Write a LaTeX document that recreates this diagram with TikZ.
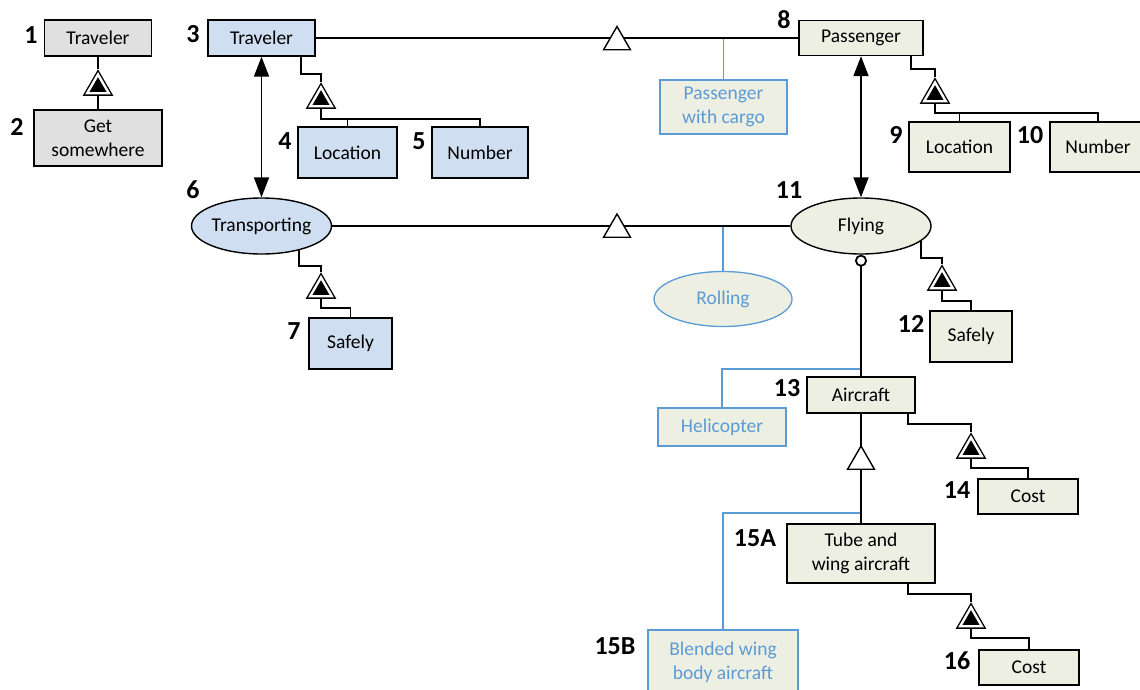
\documentclass[tikz,border=0pt]{standalone}
\usepackage{fontspec}
\setmainfont{Carlito}
\usepackage{xcolor}
\usepackage{tikz}
\usetikzlibrary{shapes.geometric,arrows.meta}

\definecolor{grayfill}{RGB}{224,224,224}
\definecolor{bluefill}{RGB}{207,222,240}
\definecolor{olivefill}{RGB}{238,239,227}
\definecolor{helpblue}{RGB}{91,155,213}

\begin{document}
\begin{tikzpicture}[x=1pt,y=-1pt,
        every node/.style={font=\fontsize{19.5}{24}\selectfont,align=center,inner sep=0pt},
        num/.style={font=\fontsize{26}{28}\selectfont\bfseries},
        graybox/.style={rectangle,draw,line width=1.4pt,fill=grayfill},
        bluebox/.style={rectangle,draw,line width=1.4pt,fill=bluefill},
        olivebox/.style={rectangle,draw,line width=1.4pt,fill=olivefill},
        helpbox/.style={rectangle,draw=helpblue,line width=1.3pt,fill=olivefill,text=helpblue},
        blueproc/.style={ellipse,draw,line width=1.4pt,fill=bluefill,inner xsep=-3pt},
        oliveproc/.style={ellipse,draw,line width=1.4pt,fill=olivefill,inner xsep=-3pt},
        helpproc/.style={ellipse,draw=helpblue,line width=1.3pt,fill=olivefill,text=helpblue,inner xsep=-3pt},
        aggr/.style={regular polygon,regular polygon sides=3,minimum size=25pt,draw,line width=1.4pt,
            fill=black,double=white,double distance=2.4pt,outer sep=2.6pt},
        gen/.style={regular polygon,regular polygon sides=3,minimum size=31pt,draw,line width=1.4pt,fill=white},
        link/.style={line width=1.8pt},
        helpline/.style={draw=helpblue,line width=1.3pt},
        both/.style={link,{Triangle[length=20pt,width=15pt]}-{Triangle[length=20pt,width=15pt]}}]
    \useasboundingbox (0,0) rectangle (1140,689);

    \node[graybox,minimum width=107pt,minimum height=36pt] (trav1) at (98,38) {Traveler};
    \node[graybox,minimum width=128pt,minimum height=56pt] (get2) at (98,138) {Get\\somewhere};
    \node[bluebox,minimum width=107pt,minimum height=36pt] (trav3) at (261.5,38) {Traveler};
    \node[bluebox,minimum width=99pt,minimum height=51pt] (loc4) at (347.5,152.5) {Location};
    \node[bluebox,minimum width=96pt,minimum height=51pt] (num5) at (480,152.5) {Number};
    \node[blueproc,minimum width=140pt,minimum height=56pt] (trans6) at (261.5,226) {Transporting};
    \node[bluebox,minimum width=83pt,minimum height=51pt] (safe7) at (350.5,343.5) {Safely};
    \node[olivebox,minimum width=124pt,minimum height=35pt] (pass8) at (861,38) {Passenger};
    \node[helpbox,minimum width=127pt,minimum height=54pt] (cargo) at (723.5,107) {Passenger\\with cargo};
    \node[olivebox,minimum width=101pt,minimum height=50pt] (loc9) at (959.5,147) {Location};
    \node[olivebox,minimum width=96pt,minimum height=50pt] (num10) at (1098,147) {Number};
    \node[oliveproc,minimum width=140pt,minimum height=56pt] (fly11) at (861,226) {Flying};
    \node[helpproc,minimum width=138pt,minimum height=55pt] (roll) at (723,299) {Rolling};
    \node[olivebox,minimum width=82pt,minimum height=51pt] (safe12) at (971,336.5) {Safely};
    \node[olivebox,minimum width=108pt,minimum height=36pt] (air13) at (861,395) {Aircraft};
    \node[helpbox,minimum width=128pt,minimum height=38pt] (heli) at (722,427) {Helicopter};
    \node[olivebox,minimum width=100pt,minimum height=35pt] (cost14) at (1028,496.5) {Cost};
    \node[olivebox,minimum width=148pt,minimum height=59pt] (tube15) at (861,553.5) {Tube and\\wing aircraft};
    \node[helpbox,minimum width=150pt,minimum height=64pt] (blend15) at (723,662) {Blended wing\\body aircraft};
    \node[olivebox,minimum width=100pt,minimum height=35pt] (cost16) at (1029,667.5) {Cost};

    \node[num] (l1) at (31,35) {1};
    \node[num] (l2) at (17,127) {2};
    \node[num] (l3) at (193,34) {3};
    \node[num] (l4) at (285,141) {4};
    \node[num] (l5) at (419,141) {5};
    \node[num] (l6) at (193,190) {6};
    \node[num] (l7) at (294,331) {7};
    \node[num] (l8) at (784,20) {8};
    \node[num] (l9) at (896,135) {9};
    \node[num] (l10) at (1030,135) {10};
    \node[num] (l11) at (789,190) {11};
    \node[num] (l12) at (911,324) {12};
    \node[num] (l13) at (787,388) {13};
    \node[num] (l14) at (957,490) {14};
    \node[num] (l15a) at (755,538) {15A};
    \node[num] (l15b) at (615,646) {15B};
    \node[num] (l16) at (957,661) {16};

    \coordinate (cj) at (723.5,38);
    \coordinate (rj) at (723,226);
    \coordinate (hj) at (861,369);
    \coordinate (bj) at (861,513);
    \draw[helpline] (cj) -- (cargo.north);
    \draw[helpline] (rj) -- (roll.north);
    \draw[helpline] (hj) -| (heli.north);
    \draw[helpline] (bj) -| (blend15.north);

    \draw[link] (trav3.east) -- (pass8.west);
    \draw[link] (trans6.east) -- (fly11.west);
    \draw[link,{Circle[open,length=12pt,width=12pt]}-] (fly11.south) -- (air13.north);
    \draw[link] (air13.south) -- (tube15.north);
    \draw[both] (trav3.south) -- (trans6.north);
    \draw[both] (pass8.south) -- (fly11.north);

    \node[gen] (g1) at (617,42) {};
    \node[gen] (g2) at (617,229.5) {};
    \node[gen] (g3) at (861,461.5) {};

    \node[aggr] (a1) at (98,87) {};
    \draw[link] (trav1.south) -- (a1.north);
    \draw[link] (a1.south) -- (get2.north);

    \node[aggr] (a3) at (321,100) {};
    \draw[link] ([xshift=-15pt]trav3.south east) -- ++(0,17) -| (a3.north);
    \draw[link] (a3.south) -- ++(0,10) -| (loc4.north);
    \draw[link] (a3.south) -- ++(0,10) -| (num5.north);

    \node[aggr] (a6) at (321,290) {};
    \draw[link] (trans6.-33) -- ++(0,16) -| (a6.north);
    \draw[link] (a6.south) -- ++(0,9) -| (safe7.north);

    \node[aggr] (a8) at (935,95) {};
    \draw[link] ([xshift=-13pt]pass8.south east) -- ++(0,13) -| (a8.north);
    \draw[link] (a8.south) -- ++(0,9) -| (loc9.north);
    \draw[link] (a8.south) -- ++(0,9) -| (num10.north);

    \node[aggr] (a11) at (942,282) {};
    \draw[link] (fly11.-14) -- ++(0,17) -| (a11.north);
    \draw[link] (a11.south) -- ++(0,10) -| (safe12.north);

    \node[aggr] (a13) at (971,450) {};
    \draw[link] ([xshift=-8pt]air13.south east) -- ++(0,10) -| (a13.north);
    \draw[link] (a13.south) -- ++(0,9) -| (cost14.north);

    \node[aggr] (a15) at (971,620) {};
    \draw[link] ([xshift=-28pt]tube15.south east) -- ++(0,10) -| (a15.north);
    \draw[link] (a15.south) -- ++(0,9) -| (cost16.north);
\end{tikzpicture}
\end{document}
